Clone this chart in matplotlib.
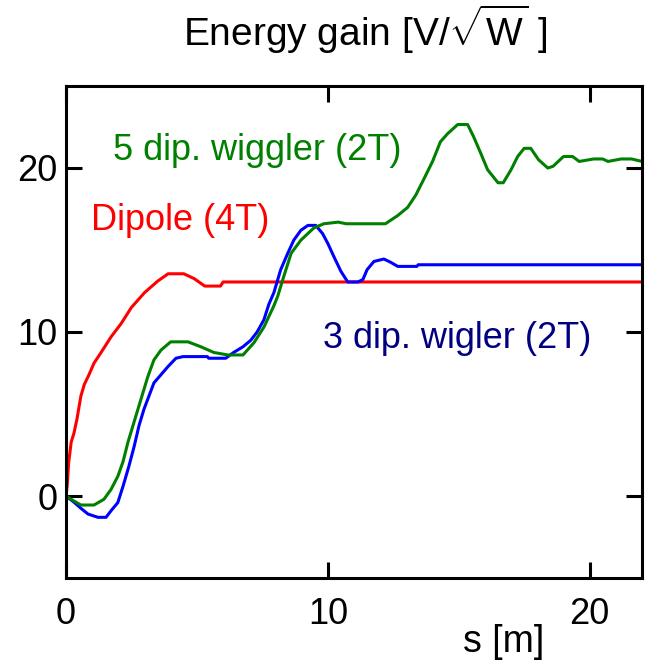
import matplotlib
matplotlib.use('Agg')
import matplotlib.pyplot as plt

# Dipole (4T)
dip_s = [0, 0.05, 0.1, 0.2, 0.3, 0.42, 0.57, 0.7, 0.88, 1.07, 1.34, 1.72, 2.1, 2.5,
         3.0, 3.5, 3.9, 4.5, 4.9, 5.3, 5.9, 6.0, 22]
dip_e = [0, 0.7, 2.0, 3.3, 3.8, 4.7, 6.1, 6.8, 7.4, 8.1, 8.75, 9.7, 10.5, 11.5,
         12.4, 13.1, 13.55, 13.55, 13.25, 12.8, 12.8, 13.05, 13.05]

# 5 dip. wiggler (2T)
w5_s = [0, 0.3, 0.57, 1.07, 1.45, 1.72, 1.98, 2.18, 2.37, 2.56, 2.75, 2.94, 3.13, 3.36,
        3.63, 4.0, 4.66, 5.15, 5.65, 6.18, 6.76, 7.18, 7.56, 7.94, 8.09, 8.32, 8.6, 8.97,
        9.47, 9.85, 10.4, 10.7, 12.2, 12.67, 13.05, 13.36, 13.66, 14.0, 14.3, 14.58, 14.96,
        15.34, 15.57, 15.84, 16.1, 16.5, 16.7, 17.0, 17.25, 17.5, 17.75, 18.05, 18.4, 18.6,
        19.0, 19.35, 19.6, 20.15, 20.5, 20.7, 21.2, 21.6, 22]
w5_e = [0, -0.3, -0.55, -0.55, -0.2, 0.4, 1.2, 2.1, 3.3, 4.3, 5.3, 6.3, 7.3, 8.3,
        8.9, 9.4, 9.4, 9.1, 8.75, 8.6, 8.6, 9.35, 10.3, 11.6, 12.2, 13.4, 14.8, 15.6,
        16.35, 16.6, 16.7, 16.6, 16.6, 17.1, 17.6, 18.35, 19.3, 20.4, 21.6, 22.1, 22.65,
        22.65, 21.9, 20.9, 19.9, 19.1, 19.1, 19.9, 20.7, 21.2, 21.2, 20.5, 20.0, 20.1,
        20.7, 20.7, 20.4, 20.55, 20.55, 20.4, 20.55, 20.55, 20.4]

# 3 dip. wigler (2T)
w3_s = [0, 0.3, 0.57, 0.84, 1.22, 1.53, 1.72, 1.98, 2.18, 2.4, 2.6, 2.79, 2.98, 3.17,
        3.36, 3.63, 3.9, 4.2, 4.47, 5.4, 5.45, 6.1, 6.4, 6.76, 7.06, 7.3, 7.56, 7.75,
        7.94, 8.2, 8.47, 8.7, 8.97, 9.24, 9.54, 9.8, 10.0, 10.23, 10.5, 10.76, 11.15,
        11.34, 11.5, 11.76, 12.14, 12.4, 12.67, 13.4, 13.45, 22]
w3_e = [0, -0.37, -0.75, -1.1, -1.3, -1.3, -0.9, -0.4, 0.6, 1.8, 3.0, 4.3, 5.3, 6.1,
        6.9, 7.4, 7.9, 8.4, 8.5, 8.5, 8.4, 8.4, 8.75, 9.1, 9.5, 10.0, 10.75, 11.7,
        12.4, 13.8, 14.8, 15.6, 16.2, 16.5, 16.5, 16.0, 15.4, 14.6, 13.7, 13.05, 13.05,
        13.2, 13.8, 14.3, 14.45, 14.25, 14.0, 14.0, 14.1, 14.1]

x_ticks = [0, 10, 20]
y_ticks = [0, 10, 20]

plt.rcParams['font.family'] = ['Liberation Sans', 'DejaVu Sans']
plt.rcParams['mathtext.fontset'] = 'custom'
plt.rcParams['mathtext.rm'] = 'Liberation Sans'
plt.rcParams['mathtext.it'] = 'Liberation Sans'

fs = 26
fig = plt.figure(figsize=(6.52, 6.63), dpi=100)
ax = fig.add_axes([0.1012, 0.1282, 0.8835, 0.7421])

lw = 2.2
ax.plot(dip_s, dip_e, color='#ff0000', lw=lw)
ax.plot(w3_s, w3_e, color='#0000ff', lw=lw)
ax.plot(w5_s, w5_e, color='#008000', lw=lw)

ax.set_xlim(0, 22)
ax.set_ylim(-5, 25)
ax.set_xticks(x_ticks)
ax.set_yticks(y_ticks)
ax.tick_params(direction='in', length=11.5, width=2.2, labelsize=fs,
               top=True, right=True, pad=6)
ax.tick_params(axis='x', pad=14)
for sp in ax.spines.values():
    sp.set_linewidth(2.2)

# curve labels
ax.text(1.8, 20.5, '5 dip. wiggler (2T)', color='#008000', fontsize=fs)
ax.text(0.95, 16.2, 'Dipole (4T)', color='#ff0000', fontsize=fs)
ax.text(9.8, 9.05, '3 dip. wigler (2T)', color='#000080', fontsize=fs)

fig.text(0.281, 0.93, r'Energy gain [V/$\sqrt{\mathrm{W}}$ ]', fontsize=28,
         va='baseline', ha='left')
fig.text(0.71, 0.0166, 's [m]', fontsize=27, va='baseline', ha='left')

fig.savefig('out.png', dpi=100)
